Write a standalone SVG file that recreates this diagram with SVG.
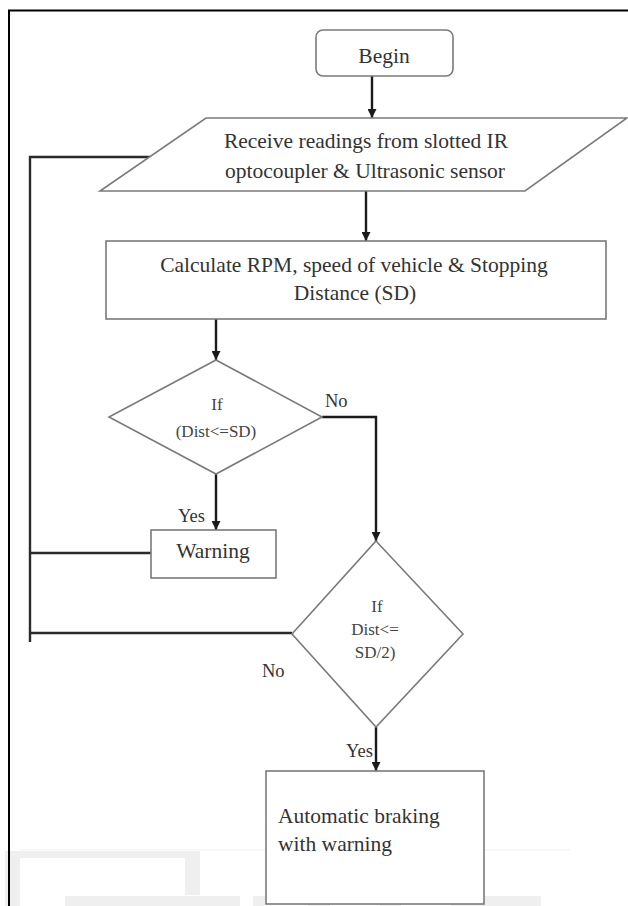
<svg xmlns="http://www.w3.org/2000/svg" width="628" height="906" viewBox="0 0 628 906">
<defs>
<marker id="ah" viewBox="0 0 10 10" refX="10" refY="5" markerWidth="9" markerHeight="9" markerUnits="userSpaceOnUse" orient="auto">
<path d="M0,0 L10,5 L0,10 Z" fill="#1a1a1a"/>
</marker>
<style>
.shape{fill:#fff;stroke:#7a7a7a;stroke-width:1.6}
text{font-family:'Liberation Serif',Tinos,'DejaVu Serif',serif}
.t{font-size:21.5px;fill:#333;text-anchor:middle}
.d{font-size:17px;fill:#444;text-anchor:middle}
.l{font-size:18.5px;fill:#333}
.s{text-anchor:start}
.c{fill:none;stroke:#2a2a2a;stroke-width:2.4}
.a{fill:none;stroke:#1a1a1a;stroke-width:2.4;marker-end:url(#ah)}
.wm{fill:#efefef}
</style>
</defs>
<rect width="628" height="906" fill="#fff"/>
<g id="watermark">
<rect class="wm" x="5" y="851" width="15" height="55"/>
<rect class="wm" x="5" y="851" width="195" height="7"/>
<rect class="wm" x="185" y="851" width="15" height="44"/>
<rect class="wm" x="65" y="896" width="175" height="10"/>
<rect class="wm" x="253" y="896" width="12" height="10"/>
<rect class="wm" x="380" y="863" width="21" height="43"/>
<rect class="wm" x="308" y="896" width="22" height="10"/>
<rect class="wm" x="451" y="896" width="90" height="10"/>
<rect x="20" y="849" width="550" height="1.5" fill="#f6f6f6"/>
</g>
<g id="frame">
<path d="M9,906 V10.5 H628" fill="none" stroke="#000" stroke-width="2"/>
</g>
<g id="connectors">
<path class="a" d="M372,76 V118"/>
<path class="a" d="M366,191 V241"/>
<path class="a" d="M216,319 V360"/>
<path class="a" d="M216,473 V530"/>
<path class="a" d="M322,417 H376 V541"/>
<path class="a" d="M376,727 V771"/>
<path class="c" d="M150,157 H30 V642"/>
<path class="c" d="M151,553 H30"/>
<path class="c" d="M292,633 H30"/>
</g>
<g id="begin">
<rect class="shape" x="316" y="30" width="137" height="46" rx="7"/>
<text class="t" x="384" y="63" font-family="Liberation Serif">Begin</text>
</g>
<g id="receive">
<polygon class="shape" points="206,118 627,118 525,191 100,191"/>
<text class="t" x="366" y="148">Receive readings from slotted IR</text>
<text class="t" x="365" y="178">optocoupler &amp; Ultrasonic sensor</text>
</g>
<g id="calculate">
<rect class="shape" x="106" y="241" width="500" height="78"/>
<text class="t" x="354" y="272">Calculate RPM, speed of vehicle &amp; Stopping</text>
<text class="t" x="355" y="300">Distance (SD)</text>
</g>
<g id="decision1">
<polygon class="shape" points="216,360 322,417 216,474 109,417"/>
<text class="d" x="217" y="410">If</text>
<text class="d" x="216" y="437">(Dist&lt;=SD)</text>
</g>
<g id="warning">
<rect class="shape" x="151" y="530" width="125" height="48"/>
<text class="t" x="213" y="558">Warning</text>
</g>
<g id="decision2">
<polygon class="shape" points="376,541 463,634 376,727 292,634"/>
<text class="d" x="377" y="612">If</text>
<text class="d" x="375" y="635">Dist&lt;=</text>
<text class="d" x="375" y="658">SD/2)</text>
</g>
<g id="braking">
<rect class="shape" x="266" y="771" width="218" height="133"/>
<text class="t s" x="278" y="823">Automatic braking</text>
<text class="t s" x="278" y="851">with warning</text>
</g>
<g id="labels">
<text class="l" x="325" y="407">No</text>
<text class="l" x="178" y="522">Yes</text>
<text class="l" x="262" y="677">No</text>
<text class="l" x="346" y="757">Yes</text>
</g>
</svg>
